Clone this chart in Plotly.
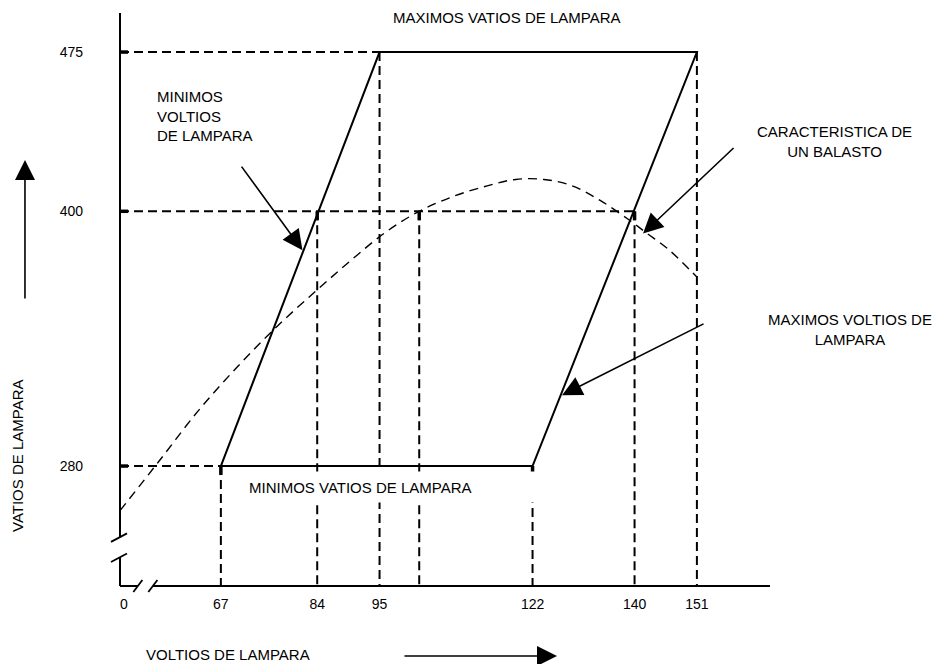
import plotly.graph_objects as go

FONT = "Liberation Sans, Arial, sans-serif"

# ---- axis layout (data units) -------------------------------------------
X_ORIGIN, X_END = 49.2, 163.9          # broken voltage axis, origin labelled 0
Y_ORIGIN, Y_END = 223.5, 493.4         # broken wattage axis
X_BREAK = (52.35, 55.0)                # gap in the voltage axis
Y_BREAK = (237.0, 246.5)               # gap in the wattage axis

V_TICKS = [X_ORIGIN + 0.7, 67, 84, 95, 122, 140, 151]
V_TICKTEXT = ["0", "67", "84", "95", "122", "140", "151"]
W_TICKS = [280, 400, 475]

# ---- lamp operating window (trapezoid) ----------------------------------
MIN_WATTS, NOMINAL_WATTS, MAX_WATTS = 280, 400, 475
WINDOW_V = [67, 95, 151, 122, 67]
WINDOW_W = [MIN_WATTS, MAX_WATTS, MAX_WATTS, MIN_WATTS, MIN_WATTS]

# voltages where the guides drop to the axis
V_AT_MIN = [67, 122]
V_AT_NOMINAL = [84, 102, 140]
V_AT_MAX = [95, 151]

# ---- ballast characteristic curve ----------------------------------------
V_CURVE = [49.2, 56, 63, 70, 77, 84, 90, 96, 102, 108, 114, 119, 124,
           129, 134, 139, 142, 146, 151]
W_CURVE = [259, 282, 306, 327, 346, 363, 377, 390, 400, 407, 412, 415, 415,
           412, 405, 396, 390, 382, 369]

# ---- arrow targets (data units) -------------------------------------------
ARROW_MIN_VOLTS = (81.4, 381.7)
ARROW_BALLAST = (141.5, 389.5)
ARROW_MAX_VOLTS = (127.2, 313.4)

GUIDE = dict(color="black", width=2, dash="9px,5px")

fig = go.Figure()

# horizontal guides from the wattage axis
hx, hy = [], []
for level, v_end in [(MAX_WATTS, 95), (NOMINAL_WATTS, 140), (MIN_WATTS, 67)]:
    hx += [X_ORIGIN, v_end, None]
    hy += [level, level, None]
fig.add_trace(go.Scatter(x=hx, y=hy, mode="lines", line=GUIDE, hoverinfo="skip"))

# vertical guides down to the voltage axis
vx, vy = [], []
for level, volts in [(MIN_WATTS, V_AT_MIN), (NOMINAL_WATTS, V_AT_NOMINAL), (MAX_WATTS, V_AT_MAX)]:
    for v in volts:
        vx += [v, v, None]
        vy += [level, Y_ORIGIN, None]
fig.add_trace(go.Scatter(x=vx, y=vy, mode="lines", line=GUIDE, hoverinfo="skip"))

# ballast characteristic
fig.add_trace(go.Scatter(x=V_CURVE, y=W_CURVE, mode="lines", line_shape="spline",
                         line=dict(color="black", width=1.4, dash="9px,6px"),
                         hoverinfo="skip"))

# operating window
fig.add_trace(go.Scatter(x=WINDOW_V, y=WINDOW_W, mode="lines",
                         line=dict(color="black", width=2), hoverinfo="skip"))

shapes = []
AX = dict(color="black", width=2)
# wattage axis (with break)
for y0, y1 in [(Y_ORIGIN, Y_BREAK[0]), (Y_BREAK[1], Y_END)]:
    shapes.append(dict(type="line", xref="paper", yref="y", x0=0, x1=0, y0=y0, y1=y1, line=AX))
for yb in Y_BREAK:
    shapes.append(dict(type="line", xref="paper", yref="y", xsizemode="pixel", xanchor=0,
                       x0=-9, x1=7, y0=yb - 2.2, y1=yb + 1.8, line=dict(color="black", width=1.8)))
# voltage axis (with break)
for x0, x1 in [(X_ORIGIN, X_BREAK[0]), (X_BREAK[1], X_END)]:
    shapes.append(dict(type="line", xref="x", yref="paper", x0=x0, x1=x1, y0=0, y1=0, line=AX))
for xb in X_BREAK:
    shapes.append(dict(type="line", xref="x", yref="paper", ysizemode="pixel", yanchor=0,
                       x0=xb - 0.8, x1=xb + 0.8, y0=-6, y1=6, line=dict(color="black", width=1.8)))
# heavy tick marks on the wattage axis
for w in W_TICKS:
    shapes.append(dict(type="line", xref="paper", yref="y", xsizemode="pixel", xanchor=0,
                       x0=-1, x1=8, y0=w, y1=w, line=dict(color="black", width=3.5)))
# heavy marks where the vertical guides leave the window
for level, volts in [(MIN_WATTS, V_AT_MIN), (NOMINAL_WATTS, V_AT_NOMINAL)]:
    for v in volts:
        shapes.append(dict(type="line", xref="x", yref="y", ysizemode="pixel", yanchor=level,
                           x0=v, x1=v, y0=0, y1=-9, line=dict(color="black", width=3.5)))

TXT = dict(family=FONT, size=15, color="black")
annotations = [
    dict(text="MAXIMOS VATIOS DE LAMPARA", x=0.5954, y=0.9913),
    dict(text="MINIMOS<br>VOLTIOS<br>DE LAMPARA", x=0.0538, y=0.8211,
         xanchor="left", align="left"),
    dict(text="CARACTERISTICA DE<br>UN BALASTO", x=1.0985, y=0.7749),
    dict(text="MAXIMOS VOLTIOS DE<br>LAMPARA", x=1.1231, y=0.4485),
    dict(text="MINIMOS VATIOS DE LAMPARA", x=0.1892, y=0.1730, xanchor="left",
         align="left", width=296, height=20, borderpad=5, bgcolor="white"),
    dict(text="VOLTIOS DE LAMPARA", x=0.1662, y=-0.1204),
    dict(text="VATIOS DE LAMPARA", x=-0.1569, y=0.2269, textangle=-90),
]
for a in annotations:
    a.setdefault("xanchor", "center")
    a.update(xref="paper", yref="paper", yanchor="middle", showarrow=False, font=TXT)

ARROW = dict(showarrow=True, text="", arrowhead=2, arrowsize=2.5, arrowwidth=1.6,
             arrowcolor="black")
for (xv, yv), (ax, ay) in [(ARROW_MIN_VOLTS, (-62, -85)),
                           (ARROW_BALLAST, (92, -87)),
                           (ARROW_MAX_VOLTS, (143, -72))]:
    annotations.append(dict(x=xv, y=yv, xref="x", yref="y", ax=ax, ay=ay, **ARROW))
# direction arrows beside the axis titles
annotations.append(dict(x=-0.1462, y=0.7435, xref="paper", yref="paper", ax=0, ay=140, **ARROW))
annotations.append(dict(x=0.6723, y=-0.1222, xref="paper", yref="paper", ax=-154, ay=0, **ARROW))

fig.update_layout(
    width=942, height=664,
    margin=dict(l=120, r=172, t=13, b=78),
    paper_bgcolor="white", plot_bgcolor="white",
    showlegend=False,
    shapes=shapes,
    annotations=annotations,
    xaxis=dict(range=[X_ORIGIN, X_END], tickvals=V_TICKS, ticktext=V_TICKTEXT,
               showgrid=False, zeroline=False, showline=False, ticks="",
               ticklabelstandoff=8, tickfont=dict(family=FONT, size=14, color="black")),
    yaxis=dict(range=[Y_ORIGIN, Y_END], tickvals=W_TICKS,
               showgrid=False, zeroline=False, showline=False, ticks="",
               ticklabelstandoff=36, tickfont=dict(family=FONT, size=14, color="black")),
)

fig.write_html("out.html")
